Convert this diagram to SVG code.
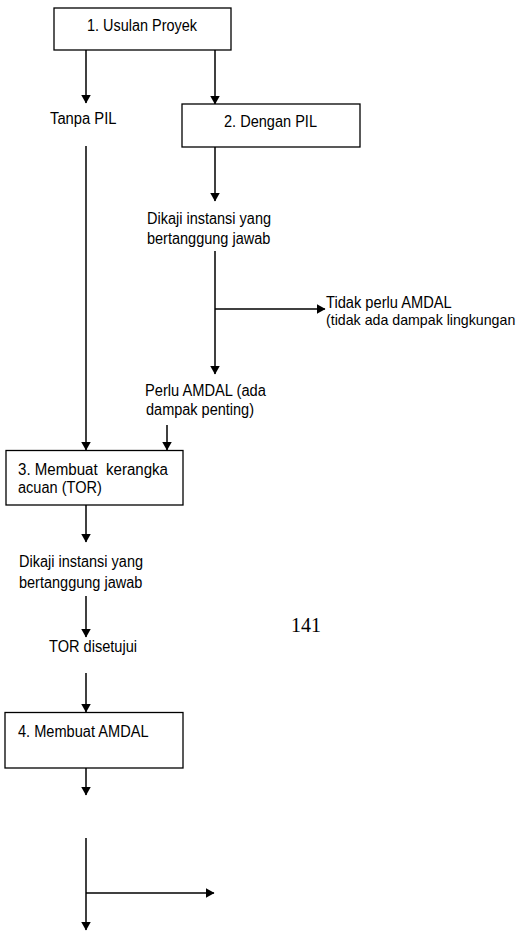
<svg xmlns="http://www.w3.org/2000/svg" width="518" height="931" viewBox="0 0 518 931">
  <style>
    text { font-family: "Liberation Sans", Arial, sans-serif; font-size: 16px; fill: #000; }
    .serif { font-family: "Liberation Serif", "Times New Roman", serif; font-size: 20px; }
    .box { fill: #fff; stroke: #000; stroke-width: 1.3; }
    .ln { fill: none; stroke: #000; stroke-width: 1.5; }
    .arr { marker-end: url(#ah); }
  </style>
  <defs>
    <marker id="ah" viewBox="0 0 9 10" markerWidth="9" markerHeight="10" refX="8.5" refY="5" orient="auto" markerUnits="userSpaceOnUse">
      <path d="M0,0 L9,5 L0,10 z" fill="#000"/>
    </marker>
  </defs>
  <rect width="518" height="931" fill="#fff"/>

  <g id="connectors">
    <line class="ln arr" x1="86" y1="50" x2="86" y2="103"/>
    <line class="ln arr" x1="215" y1="50" x2="215" y2="104"/>
    <line class="ln arr" x1="86" y1="146" x2="86" y2="450"/>
    <line class="ln arr" x1="215" y1="147" x2="215" y2="201"/>
    <line class="ln arr" x1="215" y1="251" x2="215" y2="374"/>
    <line class="ln arr" x1="215" y1="309" x2="325" y2="309"/>
    <line class="ln arr" x1="167" y1="425" x2="167" y2="450"/>
    <line class="ln arr" x1="86" y1="505" x2="86" y2="542"/>
    <line class="ln arr" x1="86" y1="596" x2="86" y2="637"/>
    <line class="ln arr" x1="86" y1="673" x2="86" y2="712"/>
    <line class="ln arr" x1="86" y1="768" x2="86" y2="795"/>
    <line class="ln arr" x1="86" y1="838" x2="86" y2="930"/>
    <line class="ln arr" x1="86" y1="893" x2="214" y2="893"/>
  </g>

  <g id="usulan-proyek">
    <rect class="box" x="54" y="8" width="177" height="42"/>
    <text x="87" y="31" textLength="110" lengthAdjust="spacingAndGlyphs">1. Usulan Proyek</text>
  </g>

  <g id="tanpa-pil">
    <text x="50" y="124" textLength="66.5" lengthAdjust="spacingAndGlyphs">Tanpa PIL</text>
  </g>

  <g id="dengan-pil">
    <rect class="box" x="182" y="104" width="178" height="43"/>
    <text x="224" y="127" textLength="93" lengthAdjust="spacingAndGlyphs">2. Dengan PIL</text>
  </g>

  <g id="dikaji-1">
    <text x="147" y="224" textLength="124" lengthAdjust="spacingAndGlyphs">Dikaji instansi yang</text>
    <text x="147" y="244" textLength="123.3" lengthAdjust="spacingAndGlyphs">bertanggung jawab</text>
  </g>

  <g id="tidak-perlu-amdal">
    <text x="326" y="308" textLength="125.7" lengthAdjust="spacingAndGlyphs">Tidak perlu AMDAL</text>
    <text x="326" y="325" style="font-size:14.2px">(tidak ada dampak lingkungan</text>
  </g>

  <g id="perlu-amdal">
    <text x="145" y="396" textLength="120.9" lengthAdjust="spacingAndGlyphs">Perlu AMDAL (ada</text>
    <text x="146" y="415" textLength="108" lengthAdjust="spacingAndGlyphs">dampak penting)</text>
  </g>

  <g id="kerangka-acuan">
    <rect class="box" x="6" y="450.5" width="177" height="54.5"/>
    <text x="18" y="475" style="white-space:pre" textLength="150" lengthAdjust="spacingAndGlyphs">3. Membuat  kerangka</text>
    <text x="18" y="493" textLength="83.8" lengthAdjust="spacingAndGlyphs">acuan (TOR)</text>
  </g>

  <g id="dikaji-2">
    <text x="19" y="567" textLength="124" lengthAdjust="spacingAndGlyphs">Dikaji instansi yang</text>
    <text x="19" y="588" textLength="123.3" lengthAdjust="spacingAndGlyphs">bertanggung jawab</text>
  </g>

  <g id="tor-disetujui">
    <text x="49" y="652" textLength="88" lengthAdjust="spacingAndGlyphs">TOR disetujui</text>
  </g>

  <g id="membuat-amdal">
    <rect class="box" x="5" y="712.5" width="178" height="55.5"/>
    <text x="18" y="737" textLength="130.5" lengthAdjust="spacingAndGlyphs">4. Membuat AMDAL</text>
  </g>

  <g id="page-number">
    <text class="serif" x="291" y="632">141</text>
  </g>
</svg>
